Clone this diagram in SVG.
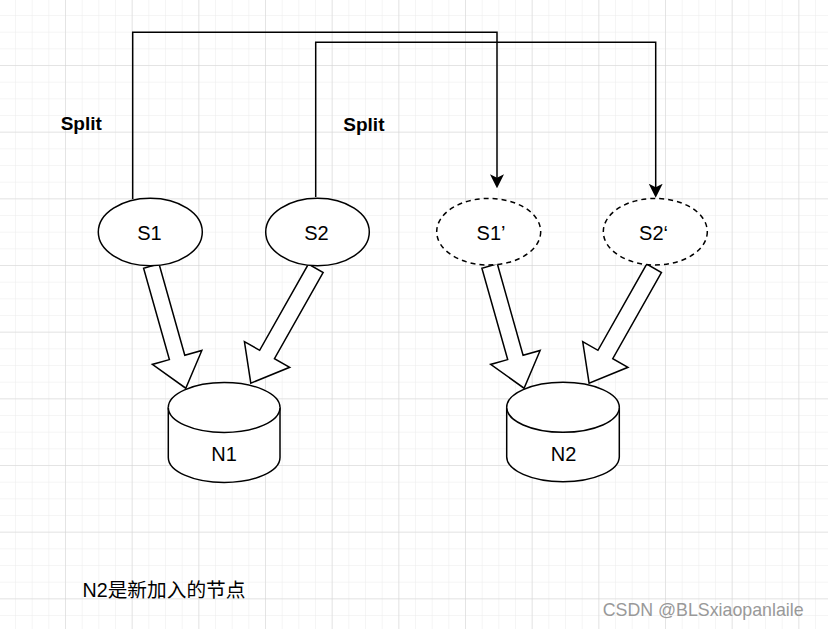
<svg xmlns="http://www.w3.org/2000/svg" width="828" height="629" viewBox="0 0 828 629">
<style>
.sh{fill:#fff;stroke:#000;stroke-width:1.5}
.dash{stroke-dasharray:5 4}
.lbl{font-family:"Liberation Sans",Arial,sans-serif;font-size:20px;fill:#000;text-anchor:middle}
.bold{font-family:"Liberation Sans",Arial,sans-serif;font-size:19px;font-weight:bold;fill:#000}
.conn{fill:none;stroke:#000;stroke-width:1.5}
</style>
<defs>
<pattern id="minor" patternUnits="userSpaceOnUse" x="-1.667" y="-1.667" width="16.667" height="16.667">
<path d="M0,0 H16.667 M0,0 V16.667" fill="none" stroke="#ebebeb" stroke-width="1"/>
</pattern>
<pattern id="major" patternUnits="userSpaceOnUse" x="-1.667" y="-1.667" width="66.667" height="66.667">
<path d="M0,0 H66.667 M0,0 V66.667" fill="none" stroke="#d4d4d4" stroke-width="1"/>
</pattern>
<marker id="arr" viewBox="0 0 14 14" refX="10" refY="7" markerWidth="14" markerHeight="14" markerUnits="userSpaceOnUse" orient="auto">
<path d="M0,0 L14,7 L0,14 L3.5,7 Z" fill="#000"/>
</marker>
<path id="blockA" d="M0,-8 L95,-8 L95,-25.7 L127,0 L95,25.7 L95,8 L0,8 Z"/>
<path id="blockB" d="M0,-8.5 L99,-8.5 L99,-26 L132,0 L99,26 L99,8.5 L0,8.5 Z"/>
</defs>
<rect width="828" height="629" fill="#fff"/>
<rect width="828" height="629" fill="url(#minor)"/>
<rect width="828" height="629" fill="url(#major)"/>

<g id="connectors">
<path class="conn" d="M132.7,199 V32.3 H497 V184.3" marker-end="url(#arr)"/>
<path class="conn" d="M315.7,197 V42.3 H655.7 V193.7" marker-end="url(#arr)"/>
<use href="#blockA" class="sh" transform="translate(151.3,266) rotate(74.25)"/>
<use href="#blockB" class="sh" transform="translate(315.8,268.3) rotate(119.5)"/>
<use href="#blockA" class="sh" transform="translate(489.6,266) rotate(74.25)"/>
<use href="#blockB" class="sh" transform="translate(654.1,268.3) rotate(119.5)"/>
</g>

<g id="S1">
<ellipse class="sh" cx="150.3" cy="232" rx="52" ry="33.7"/>
<text class="lbl" x="149.5" y="239.5">S1</text>
</g>
<g id="S2">
<ellipse class="sh" cx="317.5" cy="232" rx="51.8" ry="33.7"/>
<text class="lbl" x="316.5" y="239.5">S2</text>
</g>
<g id="S1p">
<ellipse class="sh dash" cx="488.7" cy="231.7" rx="52" ry="33.3"/>
<text class="lbl" x="491" y="240">S1’</text>
</g>
<g id="S2p">
<ellipse class="sh dash" cx="655.3" cy="231.7" rx="52" ry="33.3"/>
<text class="lbl" x="653.5" y="240">S2‘</text>
</g>

<g id="N1">
<path class="sh" d="M168.3,407.5 A55.85,25 0 0 1 280,407.5 L280,457.5 A55.85,25 0 0 1 168.3,457.5 Z"/>
<path class="sh" fill="none" d="M168.3,407.5 A55.85,25 0 0 0 280,407.5"/>
<text class="lbl" x="224" y="460.7">N1</text>
</g>
<g id="N2">
<path class="sh" d="M506.7,407.3 A56.3,25 0 0 1 619.3,407.3 L619.3,456.7 A56.3,25 0 0 1 506.7,456.7 Z"/>
<path class="sh" fill="none" d="M506.7,407.3 A56.3,25 0 0 0 619.3,407.3"/>
<text class="lbl" x="563.5" y="460.7">N2</text>
</g>

<g id="labels">
<text class="bold" x="60.7" y="129.5">Split</text>
<text class="bold" x="343.3" y="130.5">Split</text>
<text x="82.5" y="597" font-family="'Liberation Sans','Noto Sans CJK SC',sans-serif" font-size="19.7" fill="#000">N2是新加入的节点</text>
<text x="602.7" y="616" font-family="'Liberation Sans',Arial,sans-serif" font-size="17.8" fill="#999">CSDN @BLSxiaopanlaile</text>
</g>
</svg>
